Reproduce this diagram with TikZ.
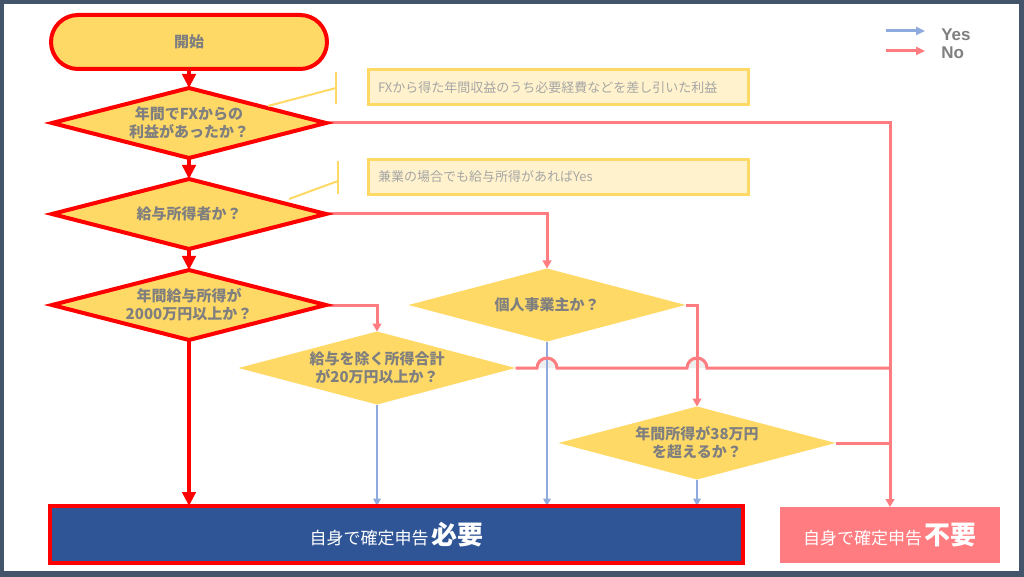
\documentclass[tikz,border=0pt]{standalone}
\usepackage{fontspec}
\setmainfont{Liberation Sans}
\newfontfamily\jp{Noto Sans CJK JP}
\usetikzlibrary{shapes.geometric,arrows.meta,calc}
\pgfdeclarelayer{bg}
\pgfdeclarelayer{back}
\pgfsetlayers{back,bg,main}
\definecolor{framec}{HTML}{44546A}
\definecolor{gold}{HTML}{FFD966}
\definecolor{pinkl}{HTML}{FF7C80}
\definecolor{bluel}{HTML}{8FAADC}
\definecolor{navy}{HTML}{2F5597}
\definecolor{txt}{HTML}{7F7F7F}
\definecolor{notefill}{HTML}{FFF2CC}
\definecolor{notetxt}{HTML}{A6A6A6}
\definecolor{bumpc}{HTML}{EFEFEF}
\newcommand\bigw{\bfseries\fontsize{19.5}{21}\selectfont}
\begin{document}
\begin{tikzpicture}[x=0.75pt,y=-0.75pt,
  dia/.style={diamond, aspect=3.8, fill=gold, inner sep=0pt, outer sep=0pt, align=center, text=txt,
     font=\jp\bfseries\fontsize{11.25}{13.5}\selectfont,
     minimum width=207.75pt, minimum height=54.75pt},
  reddia/.style={dia, draw=red, line width=3pt, minimum width=205.5pt, minimum height=52.5pt},
  startbox/.style={draw=red, line width=3pt, fill=gold, rounded corners=20.25pt, minimum width=207pt,
     minimum height=40.5pt, text=txt, font=\jp\bfseries\fontsize{11.25}{13.5}\selectfont, inner sep=0pt, outer sep=0pt},
  redarrow/.style={draw=red, line width=3.5pt, -{Triangle[length=10.5pt,width=10pt]}},
  noline/.style={draw=pinkl, line width=2.25pt},
  noarrow/.style={noline, -{Triangle[length=6pt,width=6.5pt]}},
  yesarrow/.style={draw=bluel, line width=2pt, -{Triangle[length=5.5pt,width=5.5pt]}},
  note/.style={draw=gold, fill=notefill, line width=2.25pt, text=notetxt, font=\jp\fontsize{9.75}{11}\selectfont,
     minimum height=26.25pt, text width=270pt, inner xsep=7.5pt, align=left, outer sep=0pt},
  notelink/.style={draw=gold, line width=1.5pt},
  resbox/.style={text=white, font=\jp\fontsize{12.75}{14}\selectfont, outer sep=0pt, inner sep=0pt},
  legtxt/.style={text=txt, font=\bfseries\fontsize{12.75}{14}\selectfont, anchor=base west, inner sep=0pt},
]
\begin{pgfonlayer}{back}
\fill[framec] (0,0) rectangle (1024,577);
\fill[white] (4,4) rectangle (1019,571);
\end{pgfonlayer}
\useasboundingbox (0,0) rectangle (1024,577);

% nodes
\node[startbox] (start) at (189,42) {開始};
\node[reddia] (d1) at (189,123) {年間でFXからの\\利益があったか？};
\node[reddia] (d2) at (189,214) {給与所得者か？};
\node[reddia] (d3) at (189,305) {年間給与所得が\\2000万円以上か？};
\node[dia] (d4) at (377,368) {給与を除く所得合計\\が20万円以上か？};
\node[dia] (d5) at (547,305) {個人事業主か？};
\node[dia] (d6) at (697,443) {年間所得が38万円\\を超えるか？};
\node[resbox, draw=red, line width=3pt, fill=navy, minimum width=519.75pt, minimum height=42.75pt] (need) at (396.5,534.5) {自身で確定申告\,{\bigw 必要}};
\node[resbox, fill=pinkl, minimum width=165pt, minimum height=42pt] (noneed) at (890,535) {自身で確定申告\,{\bigw 不要}};
\node[note] (n1) at (558,87.5) {FXから得た年間収益のうち必要経費などを差し引いた利益};
\node[note] (n2) at (558,177) {兼業の場合でも給与所得があればYes};

% note brackets
\coordinate (b1t) at (336,72); \coordinate (b1b) at (336,104);
\coordinate (b1m) at (336,88); \coordinate (b1e) at (268,106);
\draw[notelink] (b1t) -- (b1b);
\draw[notelink] (b1m) -- (b1e);
\coordinate (b2t) at (338,161); \coordinate (b2b) at (338,194);
\coordinate (b2m) at (338,181); \coordinate (b2e) at (289,199);
\draw[notelink] (b2t) -- (b2b);
\draw[notelink] (b2m) -- (b2e);

% legend
\coordinate (ly1) at (886,31); \coordinate (ly2) at (925,31);
\coordinate (ln1) at (886,51); \coordinate (ln2) at (925,51);
\draw[draw=bluel, line width=2.25pt, -{Triangle[length=6.75pt,width=6pt]}] (ly1) -- (ly2);
\draw[draw=pinkl, line width=2.25pt, -{Triangle[length=6.75pt,width=6pt]}] (ln1) -- (ln2);
\node[legtxt] (lyes) at (941,41) {Yes};
\node[legtxt] (lno) at (941,59) {No};

% connectors
\begin{pgfonlayer}{bg}
\draw[redarrow] (start.south) -- (d1.north);
\draw[redarrow] (d1.south) -- (d2.north);
\draw[redarrow] (d2.south) -- (d3.north);
\draw[redarrow] (d3.south) -- (d3.south |- need.north);

\coordinate (j1) at (d5.south |- d4.east);
\coordinate (j2) at (d6.north |- d4.east);
\fill[bumpc] ($(j1)+(-10,0)$) arc[start angle=180,end angle=0,radius=7.5pt] -- cycle;
\fill[bumpc] ($(j2)+(-10,0)$) arc[start angle=180,end angle=0,radius=7.5pt] -- cycle;

\draw[yesarrow] (d4.south) -- (d4.south |- need.north);
\draw[yesarrow] (d5.south) -- (d5.south |- need.north);
\draw[yesarrow] (d6.south) -- (d6.south |- need.north);

\draw[noarrow] (d1.east) -| (noneed.north);
\draw[noarrow] (d2.east) -| (d5.north);
\draw[noarrow] (d3.east) -| (d4.north);
\draw[noarrow] (d5.east) -| (d6.north);
\draw[noline] (d6.east) -- (d6.east -| noneed.north);
\draw[noline] (d4.east) -- ($(j1)+(-10,0)$) arc[start angle=180,end angle=0,radius=7.5pt]
   -- ($(j2)+(-10,0)$) arc[start angle=180,end angle=0,radius=7.5pt] -- (d4.east -| noneed.north);
\end{pgfonlayer}
\end{tikzpicture}
\end{document}
